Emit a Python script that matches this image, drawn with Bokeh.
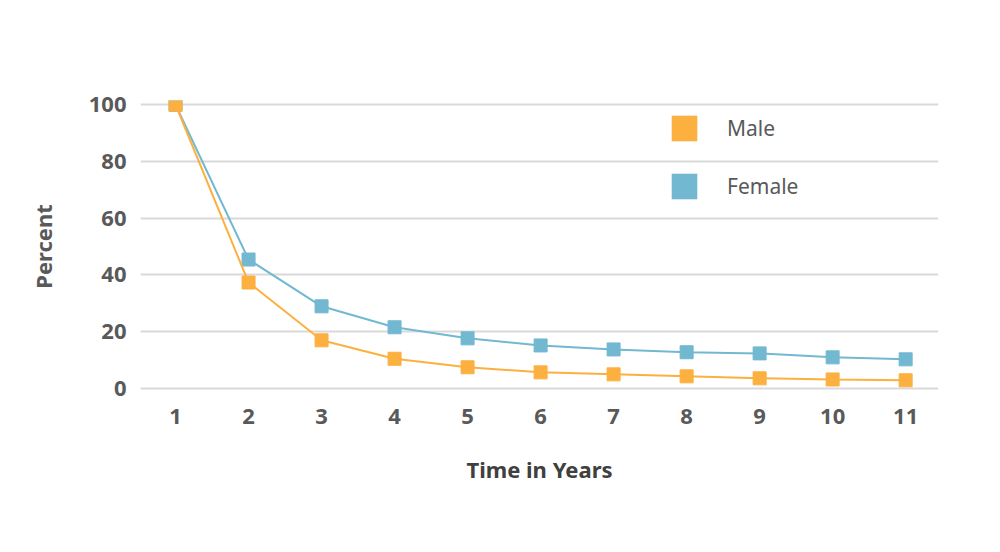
from bokeh.plotting import figure
from bokeh.models import Range1d, FixedTicker, Legend, LegendItem, ColumnDataSource
from bokeh.embed import file_html
from bokeh.resources import INLINE

years = [1, 2, 3, 4, 5, 6, 7, 8, 9, 10, 11]
male = [100, 37.3, 16.9, 10.4, 7.4, 5.6, 4.9, 4.2, 3.5, 3.1, 2.8]
female = [100, 45.4, 28.9, 21.5, 17.6, 15.1, 13.7, 12.7, 12.3, 10.9, 10.2]
y_ticks = [0, 20, 40, 60, 80, 100]

ORANGE = "#FCB040"
BLUE = "#72B8D1"
FONT = "Noto Sans"

p = figure(width=984, height=536, output_backend="svg", toolbar_location=None,
           x_range=Range1d(0.52, 11.45), y_range=Range1d(-1.5, 101.5),
           min_border_left=140, min_border_right=46, min_border_top=100, min_border_bottom=144)
p.outline_line_color = None
p.background_fill_color = "white"
p.border_fill_color = "white"

p.xgrid.grid_line_color = None
p.ygrid.grid_line_color = "#D9D9D9"
p.ygrid.grid_line_width = 2
p.ygrid.ticker = FixedTicker(ticks=y_ticks)

for ax in (p.xaxis, p.yaxis):
    ax.axis_line_color = None
    ax.major_tick_line_color = None
    ax.minor_tick_line_color = None
    ax.major_label_text_font = FONT
    ax.major_label_text_font_style = "bold"
    ax.major_label_text_font_size = "22px"
    ax.major_label_text_color = "#595959"
    ax.axis_label_text_font = FONT
    ax.axis_label_text_font_style = "bold"
    ax.axis_label_text_font_size = "22px"

p.xaxis.ticker = FixedTicker(ticks=years)
p.yaxis.ticker = FixedTicker(ticks=y_ticks)
p.xaxis.major_label_standoff = 10
p.yaxis.major_label_standoff = 8
p.xaxis.axis_label = "Time in Years"
p.yaxis.axis_label = "Percent"
p.xaxis.axis_label_standoff = 27
p.yaxis.axis_label_standoff = 28
p.xaxis.axis_label_text_color = "#404040"
p.yaxis.axis_label_text_color = "#595959"

src = ColumnDataSource(dict(x=years, m=male, f=female))
p.line("x", "f", source=src, line_color=BLUE, line_width=2)
p.scatter("x", "f", source=src, marker="square", size=13, fill_color=BLUE, line_color=BLUE)
p.line("x", "m", source=src, line_color=ORANGE, line_width=2)
p.scatter("x", "m", source=src, marker="square", size=13, fill_color=ORANGE, line_color=ORANGE)

# legend swatches (invisible renderers, used only for the legend)
nan = float("nan")
qm = p.quad(left=[nan], right=[nan], top=[nan], bottom=[nan], fill_color=ORANGE, line_alpha=0)
qf = p.quad(left=[nan], right=[nan], top=[nan], bottom=[nan], fill_color=BLUE, line_alpha=0)
legend = Legend(items=[LegendItem(label="Male", renderers=[qm]),
                       LegendItem(label="Female", renderers=[qf])],
                location=(528, 190), glyph_width=32, glyph_height=32, spacing=26,
                label_standoff=27, padding=0, margin=0,
                border_line_color=None, background_fill_alpha=0,
                label_text_font=FONT, label_text_font_size="21px",
                label_text_color="#595959", label_height=32)
p.add_layout(legend)

open("out.html", "w").write(file_html(p, INLINE))
